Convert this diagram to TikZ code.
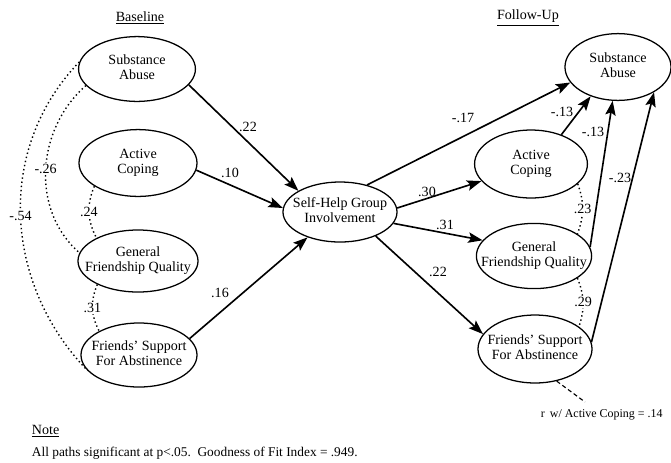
\documentclass[tikz,border=0pt]{standalone}
\usepackage{fontspec}
\setmainfont{Liberation Serif}
\usetikzlibrary{shapes.geometric,arrows.meta,positioning}

\newcommand{\vartext}[1]{\makebox[0pt]{\rmfamily\renewcommand{\arraystretch}{0.88}\begin{tabular}{@{}c@{}}#1\end{tabular}}}

\begin{document}
\begin{tikzpicture}[x=0.025cm,y=-0.025cm,
  var/.style={ellipse,draw,line width=0.9pt,inner sep=0pt},
  arr/.style={-{Stealth[length=3.6mm,width=2.6mm,inset=0.7mm]},line width=1.15pt},
  corr/.style={dotted,line width=1pt},
  coef/.style={inner sep=1pt,fill=white}]

\useasboundingbox (0,0) rectangle (671,462);

\node (base) at (140,18) {\underline{Baseline}};
\node (follow) at (528,18) {\underline{Follow-Up}};

% baseline
\node[var,minimum width=2.92cm,minimum height=1.62cm] (sab) at (137,69) {\vartext{Substance\\Abuse}};
\node[var,minimum width=2.95cm,minimum height=1.67cm] (acb) at (138,163) {\vartext{Active\\Coping}};
\node[var,minimum width=3.0cm,minimum height=1.55cm] (gfb) at (138,261) {\vartext{General\\Friendship Quality}};
\node[var,minimum width=2.9cm,minimum height=1.6cm] (fsb) at (139,355) {\vartext{Friends' Support\\For Abstinence}};

\node[var,minimum width=2.85cm,minimum height=1.5cm] (sh) at (340,212) {\vartext{Self-Help Group\\Involvement}};

% follow-up
\node[var,minimum width=2.65cm,minimum height=1.67cm] (saf) at (618,67) {\vartext{Substance\\Abuse}};
\node[var,minimum width=2.82cm,minimum height=1.7cm] (acf) at (531,164) {\vartext{Active\\Coping}};
\node[var,minimum width=2.88cm,minimum height=1.63cm] (gff) at (534,256) {\vartext{General\\Friendship Quality}};
\node[var,minimum width=2.85cm,minimum height=1.7cm] (fsf) at (535,349) {\vartext{Friends' Support\\For Abstinence}};

% paths
\draw[arr] (sab.-17) -- (sh.153);
\draw[arr] (acb.-7) -- (sh.176);
\draw[arr] (fsb.18) -- (sh.-142);
\draw[arr] (sh.45) -- (saf.-162);
\draw[arr] (sh.4) -- (acf.-161);
\draw[arr] (sh.-12) -- (gff.163);
\draw[arr] (sh.-34) -- (fsf.164);
\draw[arr] (acf.44) -- (saf.-133);
\draw[arr] (gff.9) -- (saf.-99);
\draw[arr] (fsf.7) -- (saf.-35);

\node (c1) at (248,127) {.22};
\node (c2) at (230,173) {.10};
\node (c3) at (220,293) {.16};
\node (c4) at (463,118) {-.17};
\node (c5) at (427,192) {.30};
\node (c6) at (445,225) {.31};
\node (c7) at (438,272) {.22};
\node (c8) at (562,112) {-.13};
\node (c9) at (593,132) {-.13};
\node (c10) at (620,178) {-.23};

% correlations
\draw[corr] (sab.173) to[out=226,in=134] node[coef] (r1) {-.54} (fsb.-163);
\draw[corr] (sab.198) to[out=221,in=139] node[coef] (r2) {-.26} (gfb.172);
\draw[corr] (acb.208) to[bend right=25] node[coef] (r3) {.24} (gfb.151);
\draw[corr] (gfb.210) to[bend right=25] node[coef] (r4) {.31} (fsb.149);
\draw[corr] (acf.-23) to[bend left=20] node[coef] (r5) {.23} (gff.27);
\draw[corr] (gff.-27) to[bend left=20] node[coef] (r6) {.29} (fsf.27);

\node[anchor=base west,font=\fontsize{8.5}{10}\selectfont] (rnote) at (536,417) {r\, w/ Active Coping = .14};
\coordinate (rend) at (585,402);
\draw[densely dashed,line width=0.8pt] (fsf.-56) -- (rend);

\node[anchor=base west] (note) at (27,434) {\underline{Note}};
\node[anchor=base west,font=\fontsize{9.5}{11}\selectfont] (fit) at (27,456) {All paths significant at p<.05.\ \ Goodness of Fit Index = .949.};
\end{tikzpicture}
\end{document}
